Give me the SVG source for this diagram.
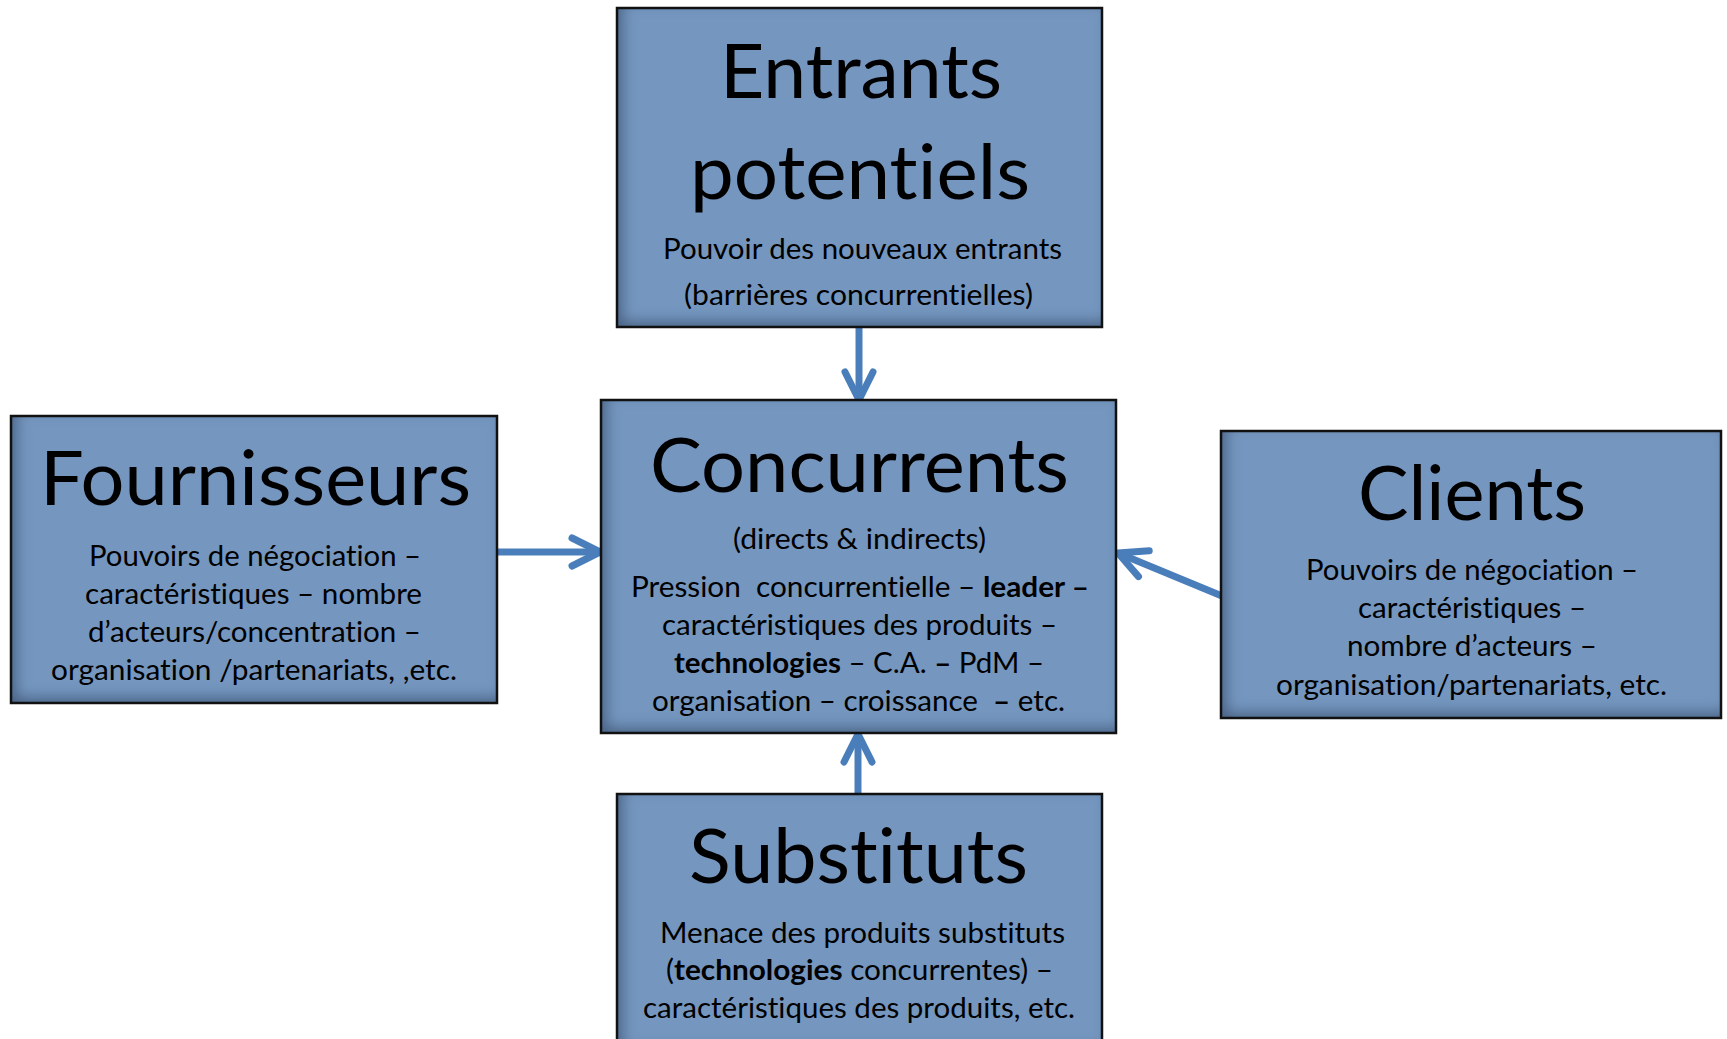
<svg xmlns="http://www.w3.org/2000/svg" width="1727" height="1039" viewBox="0 0 1727 1039">
  <style>
    .box { fill: #7596bf; filter: url(#inset); }
    .frame { fill: none; stroke: #111; stroke-width: 2.5; }
    .title, .body { font-family: "Lato", "Open Sans", sans-serif; fill: #000; font-variant-ligatures: none; font-feature-settings: "liga" 0, "clig" 0; }
    .title { font-size: 75px; }
    .body { font-size: 29px; }
    .b { font-weight: bold; }
    .link { fill: none; stroke: #4a7ebb; stroke-width: 7; marker-end: url(#head); }
  </style>
  <defs>
    <!-- soft inner shade along the left and bottom edges of each box -->
    <filter id="inset" x="-10%" y="-10%" width="120%" height="120%">
      <feComponentTransfer in="SourceAlpha" result="inv">
        <feFuncA type="table" tableValues="1 0"/>
      </feComponentTransfer>
      <feGaussianBlur in="inv" stdDeviation="7" result="blur"/>
      <feOffset in="blur" dx="6" dy="-6" result="off"/>
      <feFlood flood-color="#26395a" flood-opacity="0.7"/>
      <feComposite in2="off" operator="in" result="shade"/>
      <feComposite in="shade" in2="SourceAlpha" operator="in" result="inner"/>
      <feMerge>
        <feMergeNode in="SourceGraphic"/>
        <feMergeNode in="inner"/>
      </feMerge>
    </filter>
    <marker id="head" markerUnits="userSpaceOnUse" viewBox="-36 -20 42 40" markerWidth="42" markerHeight="40" refX="0" refY="0" orient="auto">
      <path d="M-28,-14 L0,0 L-28,14" fill="none" stroke="#4a7ebb" stroke-width="7" stroke-linecap="round" stroke-linejoin="round"/>
    </marker>
  </defs>

  <rect width="1727" height="1039" fill="#ffffff"/>

  <g id="connectors">
    <line class="link" x1="859" y1="328" x2="859" y2="400"/>
    <line class="link" x1="858" y1="794" x2="858" y2="734"/>
    <line class="link" x1="497" y1="552" x2="600" y2="552"/>
    <line class="link" x1="1222" y1="596" x2="1118" y2="553"/>
  </g>

  <g id="entrants">
    <rect class="box" x="617" y="8" width="485" height="319"/>
    <rect class="frame" x="617" y="8" width="485" height="319"/>
    <text class="title" x="720" y="98" textLength="282" lengthAdjust="spacingAndGlyphs">Entrants</text>
    <text class="title" x="690" y="199" textLength="340" lengthAdjust="spacingAndGlyphs">potentiels</text>
    <text class="body" x="663" y="259" textLength="399" lengthAdjust="spacingAndGlyphs">Pouvoir des nouveaux entrants</text>
    <text class="body" x="684" y="305" textLength="349" lengthAdjust="spacingAndGlyphs">(barrières concurrentielles)</text>
  </g>

  <g id="concurrents">
    <rect class="box" x="601" y="400" width="515" height="333"/>
    <rect class="frame" x="601" y="400" width="515" height="333"/>
    <text class="title" x="650" y="492" textLength="419" lengthAdjust="spacingAndGlyphs">Concurrents</text>
    <text class="body" x="733" y="549" textLength="253" lengthAdjust="spacingAndGlyphs">(directs &amp; indirects)</text>
    <text class="body" x="631" y="597" textLength="458" lengthAdjust="spacingAndGlyphs" xml:space="preserve">Pression  concurrentielle – <tspan class="b">leader –</tspan></text>
    <text class="body" x="662" y="635" textLength="395" lengthAdjust="spacingAndGlyphs">caractéristiques des produits –</text>
    <text class="body" x="674" y="673" textLength="370" lengthAdjust="spacingAndGlyphs" xml:space="preserve"><tspan class="b">technologies</tspan> – C.A. <tspan class="b">–</tspan> PdM –</text>
    <text class="body" x="652" y="711" textLength="413" lengthAdjust="spacingAndGlyphs" xml:space="preserve">organisation – croissance  <tspan class="b">–</tspan> etc.</text>
  </g>

  <g id="fournisseurs">
    <rect class="box" x="11" y="416" width="486" height="287"/>
    <rect class="frame" x="11" y="416" width="486" height="287"/>
    <text class="title" x="40" y="505" textLength="431" lengthAdjust="spacingAndGlyphs">Fournisseurs</text>
    <text class="body" x="89" y="566" textLength="332" lengthAdjust="spacingAndGlyphs">Pouvoirs de négociation –</text>
    <text class="body" x="85" y="604" textLength="337" lengthAdjust="spacingAndGlyphs">caractéristiques – nombre</text>
    <text class="body" x="88" y="642" textLength="333" lengthAdjust="spacingAndGlyphs">d’acteurs/concentration –</text>
    <text class="body" x="51" y="680" textLength="406" lengthAdjust="spacingAndGlyphs">organisation /partenariats, ,etc.</text>
  </g>

  <g id="clients">
    <rect class="box" x="1221" y="431" width="500" height="287"/>
    <rect class="frame" x="1221" y="431" width="500" height="287"/>
    <text class="title" x="1358" y="520" textLength="228" lengthAdjust="spacingAndGlyphs">Clients</text>
    <text class="body" x="1306" y="580" textLength="332" lengthAdjust="spacingAndGlyphs">Pouvoirs de négociation –</text>
    <text class="body" x="1358" y="618" textLength="228" lengthAdjust="spacingAndGlyphs">caractéristiques –</text>
    <text class="body" x="1347" y="656" textLength="250" lengthAdjust="spacingAndGlyphs">nombre d’acteurs –</text>
    <text class="body" x="1276" y="695" textLength="391" lengthAdjust="spacingAndGlyphs">organisation/partenariats, etc.</text>
  </g>

  <g id="substituts">
    <rect class="box" x="617" y="794" width="485" height="260"/>
    <rect class="frame" x="617" y="794" width="485" height="260"/>
    <text class="title" x="689" y="883" textLength="339" lengthAdjust="spacingAndGlyphs">Substituts</text>
    <text class="body" x="660" y="943" textLength="405" lengthAdjust="spacingAndGlyphs">Menace des produits substituts</text>
    <text class="body" x="666" y="980" textLength="387" lengthAdjust="spacingAndGlyphs" xml:space="preserve">(<tspan class="b">technologies</tspan> concurrentes) –</text>
    <text class="body" x="643" y="1018" textLength="432" lengthAdjust="spacingAndGlyphs">caractéristiques des produits, etc.</text>
  </g>
</svg>
